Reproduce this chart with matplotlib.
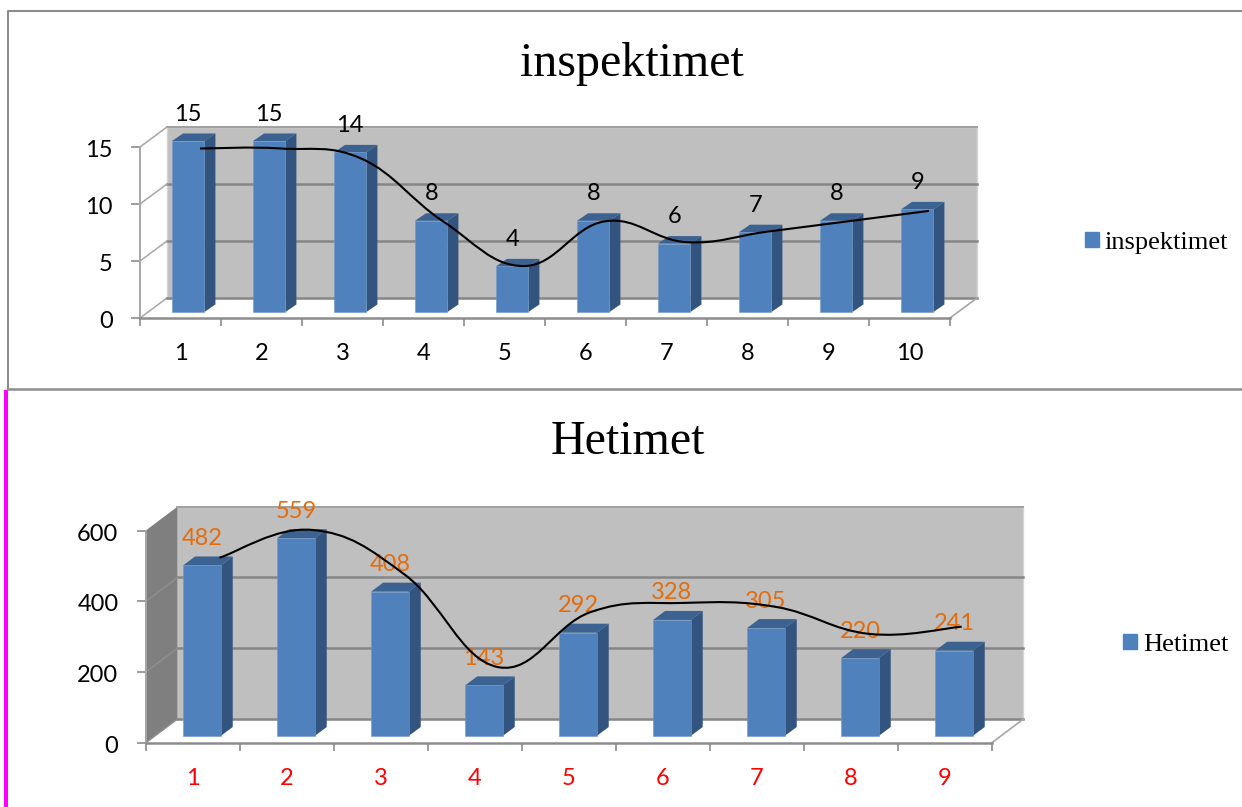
import matplotlib
matplotlib.use('Agg')
import matplotlib.pyplot as plt
from matplotlib.patches import Polygon, Patch, PathPatch
from matplotlib.path import Path
from matplotlib.transforms import ScaledTranslation

W, H = 1242, 807

# data
categories1 = ['1', '2', '3', '4', '5', '6', '7', '8', '9', '10']
values1 = [15, 15, 14, 8, 4, 8, 6, 7, 8, 9]
trend1 = [15, 15, 14, 8, 3.7, 8, 6, 7, 8, 9]
yticks1 = [0, 5, 10, 15]

categories2 = ['1', '2', '3', '4', '5', '6', '7', '8', '9']
values2 = [482, 559, 408, 143, 292, 328, 305, 220, 241]
trend2 = [482, 579, 422, 100, 292, 324, 310, 216, 241]
yticks2 = [0, 200, 400, 600]

BLUE = '#4f81bd'
SIDE = '#32547e'
TOP = '#3c6291'
WALL = '#bfbfbf'
GRID = '#868686'
AXIS = '#8c8c8c'

plt.rcParams['font.family'] = ['Lato', 'DejaVu Sans']
fig = plt.figure(figsize=(W / 100, H / 100), dpi=100)


def px_axes(left, right, top, bottom):
    return fig.add_axes([left / W, 1 - bottom / H, (right - left) / W, (bottom - top) / H])


def smooth(ax, xs, ys, k=0.2):
    verts = [(xs[0], ys[0])]
    codes = [Path.MOVETO]
    n = len(xs)
    for i in range(n - 1):
        prev = max(i - 1, 0)
        nxt = min(i + 2, n - 1)
        verts.append((xs[i] + (xs[i + 1] - xs[prev]) * k, ys[i] + (ys[i + 1] - ys[prev]) * k))
        verts.append((xs[i + 1] - (xs[nxt] - xs[i]) * k, ys[i + 1] - (ys[nxt] - ys[i]) * k))
        verts.append((xs[i + 1], ys[i + 1]))
        codes += [Path.CURVE4, Path.CURVE4, Path.CURVE4]
    ax.add_patch(PathPatch(Path(verts, codes), fc='none', ec='black', lw=1.5, clip_on=False))


def draw_chart(box, cats, vals, yticks, depth, bar_off, bar_w, bar_depth, base,
               label_off, dark_wall, tick_color, label_color):
    ax = px_axes(*box)
    n = len(cats)
    ymax = yticks[-1]
    dx, dy = depth
    bdx, bdy = bar_depth
    ax.set_xlim(0, n)
    ax.set_ylim(0, ymax)
    ax.patch.set_visible(False)

    # back wall and floor
    ax.add_patch(Polygon([(dx, dy), (n + dx, dy), (n + dx, ymax + dy), (dx, ymax + dy)],
                         fc=WALL, ec='#d4d4d4', lw=1, zorder=1, clip_on=False))
    ax.plot([dx, n + dx], [ymax + dy, ymax + dy], color='#a0a0a0', lw=1.4, zorder=1.5, clip_on=False)
    if dark_wall:
        ax.add_patch(Polygon([(0, 0), (dx, dy), (dx, ymax + dy), (0, ymax)],
                             fc='#7f7f7f', ec='none', zorder=1, clip_on=False))
    for t in yticks:
        if t > 0 and t < ymax:
            ax.plot([dx, n + dx], [t + dy, t + dy], color=GRID, lw=1.8, zorder=1.5, clip_on=False)
        if t < ymax or not dark_wall:
            side_col = '#8f8f8f' if dark_wall else '#a6a6a6'
            ax.plot([0, dx], [t, t + dy], color=side_col, lw=1.1, zorder=1.5, clip_on=False)
    ax.plot([dx, n + dx], [dy, dy], color=GRID, lw=1.8, zorder=1.5, clip_on=False)
    ax.plot([n, n + dx], [0, dy], color='#a6a6a6', lw=1.2, zorder=1.5, clip_on=False)

    # bars
    lefts = [i + bar_off for i in range(n)]
    ax.bar(lefts, vals, width=bar_w, bottom=base, align='edge', color=BLUE,
           edgecolor='#6f97c8', linewidth=0.4, zorder=3, clip_on=False)
    for x, v in zip(lefts, vals):
        t = base + v
        ax.add_patch(Polygon([(x + bar_w, base), (x + bar_w + bdx, base + bdy),
                              (x + bar_w + bdx, t + bdy), (x + bar_w, t)],
                             fc=SIDE, ec='none', zorder=2.9, clip_on=False))
        ax.add_patch(Polygon([(x, t), (x + bdx, t + bdy), (x + bar_w + bdx, t + bdy), (x + bar_w, t)],
                             fc=TOP, ec='none', zorder=2.9, clip_on=False))
        ax.annotate(str(v), (x + bar_w / 2, t), xytext=(0, label_off), textcoords='offset pixels',
                    ha='center', va='center', fontsize=17, color=label_color, zorder=4,
                    annotation_clip=False)

    # axes
    for s in ['top', 'right']:
        ax.spines[s].set_visible(False)
    ax.spines['bottom'].set_color(AXIS)
    ax.spines['bottom'].set_linewidth(1.8)
    ax.spines['left'].set_color('#a6a6a6')
    ax.spines['left'].set_linewidth(1.4)
    ax.spines['left'].set_zorder(2)
    ax.set_xticks(range(n + 1))
    ax.set_xticklabels([])
    ax.set_xticks([i + 0.5 for i in range(n)], minor=True)
    ax.set_xticklabels(cats, minor=True, fontsize=17, color=tick_color)
    ax.tick_params(axis='x', which='major', length=6, width=1.2, color=AXIS)
    ax.tick_params(axis='x', which='minor', length=0, pad=18)
    ax.set_yticks(yticks)
    ax.tick_params(axis='y', length=6.5, width=1.2, color=AXIS, pad=13, labelsize=17)
    shift = ScaledTranslation(0, -1 / 72, fig.dpi_scale_trans)
    for lbl in ax.get_yticklabels():
        lbl.set_transform(lbl.get_transform() + shift)
    return ax


# frame and magenta stripe
bg = fig.add_axes([0, 0, 1, 1], zorder=-1)
bg.set_xlim(0, W)
bg.set_ylim(H, 0)
bg.axis('off')
bg.plot([1242, 7.5, 7.5], [10.5, 10.5, 389], color='#8c8c8c', lw=1.5)
bg.plot([7.5, 1242], [389, 389], color='#8c8c8c', lw=1.8)
bg.fill_between([4, 8], 390, 807, color='#ff00ff', lw=0)

# top chart
ax1 = draw_chart((140, 950, 147, 318), categories1, values1, yticks1,
                 depth=(0.333, 1.754), bar_off=0.395, bar_w=0.40, bar_depth=(0.136, 0.66),
                 base=0.526, label_off=27, dark_wall=False, tick_color='black', label_color='black')
line1 = px_axes(200, 929, 148.5, 304.5)
line1.set_xlim(0, 9)
line1.set_ylim(0, 15)
line1.axis('off')
smooth(line1, list(range(10)), trend1)
fig.text(632 / W, 1 - 64 / H, 'inspektimet', family='Liberation Serif', fontsize=34.6,
         ha='center', va='center')
ax1.legend(handles=[Patch(color=BLUE, label='inspektimet')], loc='center left',
           bbox_to_anchor=(1085 / W, 1 - 243 / H), bbox_transform=fig.transFigure, frameon=False,
           prop={'family': 'Liberation Serif', 'size': 19}, handlelength=0.53, handleheight=0.53,
           handletextpad=0.22, borderpad=0, borderaxespad=0)

# bottom chart
ax2 = draw_chart((145.5, 991.5, 530.7, 743), categories2, values2, yticks2,
                 depth=(0.34, 67.8), bar_off=0.40, bar_w=0.40, bar_depth=(0.128, 25.4),
                 base=19.8, label_off=27, dark_wall=True, tick_color='#ff0000', label_color='#e46c0a')
line2 = px_axes(219.5, 961.7, 557.7, 695.7)
line2.set_xlim(0, 8)
line2.set_ylim(0, 482)
line2.axis('off')
smooth(line2, list(range(9)), trend2)
fig.text(628 / W, 1 - 442 / H, 'Hetimet', family='Liberation Serif', fontsize=34.6,
         ha='center', va='center')
ax2.legend(handles=[Patch(color=BLUE, label='Hetimet')], loc='center left',
           bbox_to_anchor=(1123 / W, 1 - 645 / H), bbox_transform=fig.transFigure, frameon=False,
           prop={'family': 'Liberation Serif', 'size': 19}, handlelength=0.53, handleheight=0.53,
           handletextpad=0.22, borderpad=0, borderaxespad=0)

fig.savefig('out.png', dpi=100)
